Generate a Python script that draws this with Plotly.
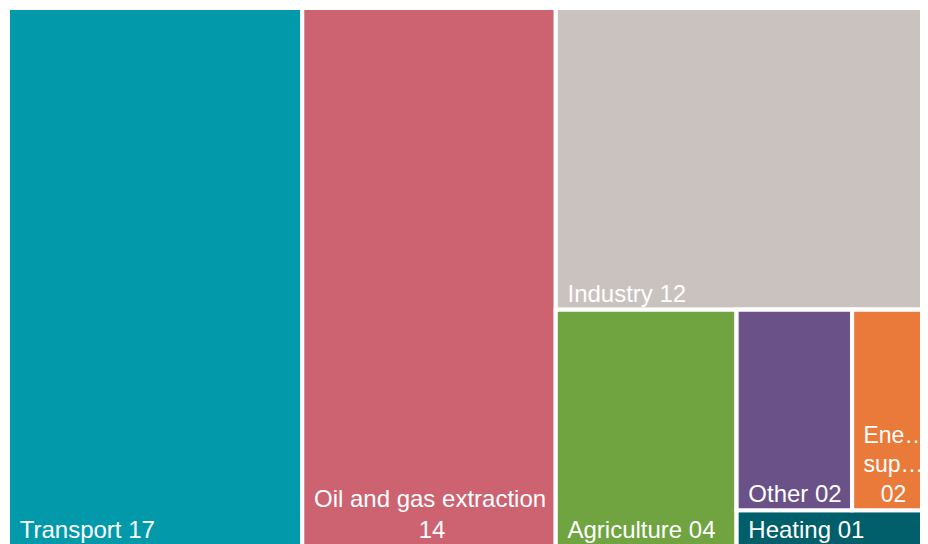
import plotly.graph_objects as go

# leaf data
labels = ["Transport", "Oil and gas extraction", "Industry", "Agriculture", "Other", "Energy supply", "Heating"]
values = [16.6, 14.3, 11.9, 4.48, 2.43, 1.68, 0.73]
colors = ["#029aab", "#cd6370", "#c9c2bf", "#6fa441", "#6a5288", "#ea7a39", "#005f6b"]
font_sizes = [24, 24, 24, 24, 24, 23, 24]

P = "\u00a0\u200a"  # inner left padding of labels
# label text as shown (Excel-style wrapping / truncation)
shown = [P + "Transport ", P + "Oil and gas extraction<br>" + "\u00a0" * 17, P + "Industry ",
         P + "Agriculture ", P + "Other ", P + "Ene…<br>" + P + "sup…<br>" + "\u00a0" * 4, P + "Heating "]
parents = ["", "", "g_rest", "g_bottom", "g_small_top", "g_small_top", "g_small"]

# invisible grouping nodes reproducing the reference tiling
group_ids = ["g_rest", "g_bottom", "g_small", "g_small_top"]
group_parents = ["", "g_rest", "g_bottom", "g_small"]

order = ["Transport", "Oil and gas extraction", "g_rest", "Industry", "g_bottom", "Agriculture",
         "g_small", "g_small_top", "Other", "Energy supply", "Heating"]

node_parent = dict(zip(labels, parents))
node_parent.update(zip(group_ids, group_parents))
leaf_value = dict(zip(labels, values))

def total(node):
    if node in leaf_value:
        return leaf_value[node]
    return sum(total(c) for c, p in node_parent.items() if p == node)

ids, pars, vals, cols, cdata, tmpl, sizes = [], [], [], [], [], [], []
for n in order:
    ids.append(n)
    pars.append(node_parent[n])
    vals.append(total(n))
    if n in leaf_value:
        i = labels.index(n)
        cols.append(colors[i])
        cdata.append(shown[i])
        tmpl.append("%{customdata}%{value:02.0f}")
        sizes.append(font_sizes[i])
    else:
        cols.append("white")
        cdata.append("")
        tmpl.append("")
        sizes.append(24)

fig = go.Figure(go.Treemap(
    ids=ids,
    labels=ids,
    parents=pars,
    values=vals,
    branchvalues="total",
    customdata=cdata,
    texttemplate=tmpl,
    textposition="bottom left",
    textfont=dict(family="Liberation Sans, Arial, sans-serif", size=sizes, color="white"),
    marker=dict(colors=cols, line=dict(color="white", width=4),
                pad=dict(t=0, l=0, r=0, b=0)),
    tiling=dict(packing="slice-dice", pad=0),
    pathbar=dict(visible=False),
    sort=False,
    hoverinfo="label+value",
))
fig.update_layout(
    width=924, height=538,
    margin=dict(l=0, r=0, t=0, b=0, autoexpand=False),
    paper_bgcolor="white",
)
fig.write_html("out.html")
